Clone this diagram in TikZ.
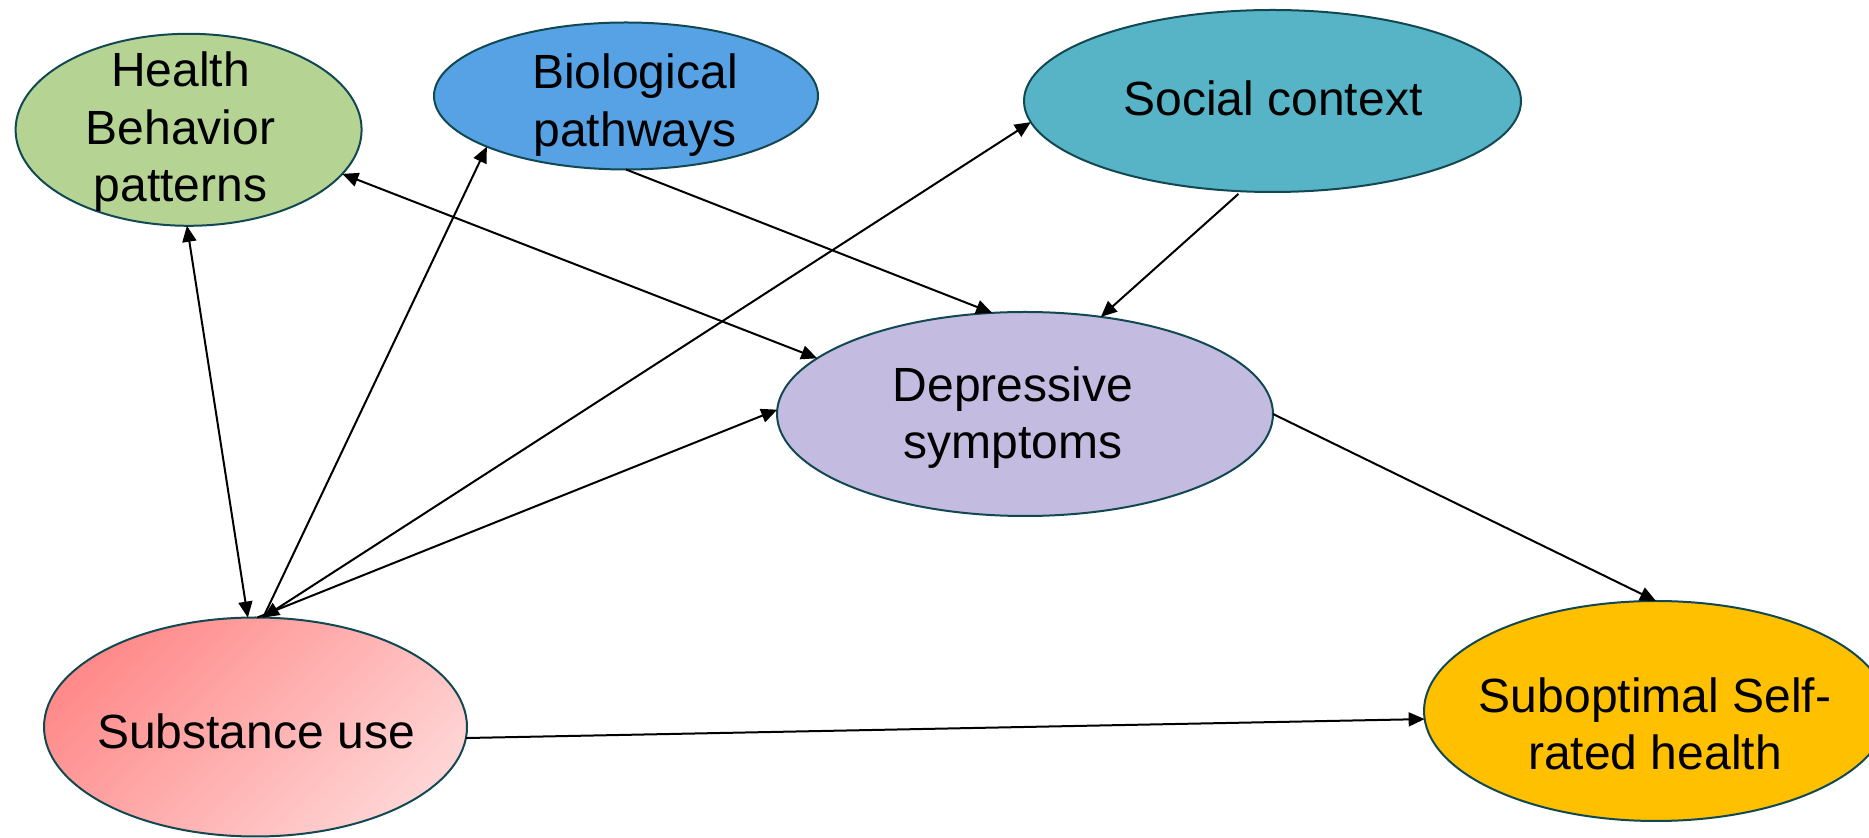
\documentclass[tikz,border=0pt]{standalone}
\usepackage{fontspec}
\setmainfont{Liberation Sans}
\usetikzlibrary{shapes.geometric,arrows.meta}
\definecolor{edgeteal}{RGB}{18,72,82}
\definecolor{hgreen}{RGB}{181,212,148}
\definecolor{bblue}{RGB}{86,162,228}
\definecolor{steal}{RGB}{86,180,198}
\definecolor{dlav}{RGB}{195,188,224}
\definecolor{ogold}{RGB}{255,192,0}
\definecolor{upinkA}{RGB}{255,138,138}
\definecolor{upinkB}{RGB}{255,212,212}
\begin{document}
\begin{tikzpicture}[x=0.5pt,y=-0.5pt,
  ell/.style={ellipse, draw=edgeteal, line width=1pt, inner sep=0pt, outer sep=0pt},
  lbl/.style={inner sep=0pt, outer sep=0pt, font=\fontsize{24}{28.8}\selectfont},
  link/.style={line width=1pt, -{Triangle[length=8pt,width=7pt]}},
  both/.style={line width=1pt, {Triangle[length=8pt,width=7pt]}-{Triangle[length=8pt,width=7pt]}}]
\useasboundingbox (0,0) rectangle (1869,838);

% ellipses
\node[ell, fill=hgreen, minimum width=173pt, minimum height=96pt] (H) at (188.6,129.8) {};
\node[ell, fill=bblue, minimum width=192pt, minimum height=73.5pt] (B) at (626,96) {};
\node[ell, fill=steal, minimum width=248.5pt, minimum height=91pt] (S) at (1272.5,101) {};
\node[ell, fill=dlav, minimum width=248pt, minimum height=102pt] (D) at (1025,414) {};
\node[ell, top color=upinkA, bottom color=upinkB, shading angle=45, minimum width=211.5pt, minimum height=109.5pt] (U) at (255.5,727) {};
\node[ell, fill=ogold, minimum width=232pt, minimum height=110pt] (O) at (1656,711) {};

% texts
\node[lbl] (Ht) at (180.5,132.7) {\begin{tabular}{@{}c@{}}Health\\Behavior\\patterns\end{tabular}};
\node[lbl] (Bt) at (635,106) {\begin{tabular}{@{}c@{}}Biological\\pathways\end{tabular}};
\node[lbl] (St) at (1273,103.5) {\begin{tabular}{@{}c@{}}Social context\end{tabular}};
\node[lbl] (Dt) at (1013,418.3) {\begin{tabular}{@{}c@{}}Depressive\\symptoms\end{tabular}};
\node[lbl] (Ut) at (256,736.5) {\begin{tabular}{@{}c@{}}Substance use\end{tabular}};
\node[lbl] (Ot) at (1655,729.3) {\begin{tabular}{@{}c@{}}Suboptimal Self-\\rated health\end{tabular}};

% connectors
\draw[both] (H.269.5) -- (U.94.7);
\draw[link] (U.86.2) -- (B.200.5);
\draw[both] (U.86.9) -- (S.185.1);
\draw[link] (U.89.4) -- (D.179.8);
\draw[both] (H.344.1) -- (D.165.5);
\draw[link] (B.270) -- (D.108.6);
\draw[link, shorten <=2pt] (S.251.2) -- (D.52.4);
\draw[link] (D.0) -- (O.90);
\draw[link] (U.357.4) -- (O.182.9);
\end{tikzpicture}
\end{document}
